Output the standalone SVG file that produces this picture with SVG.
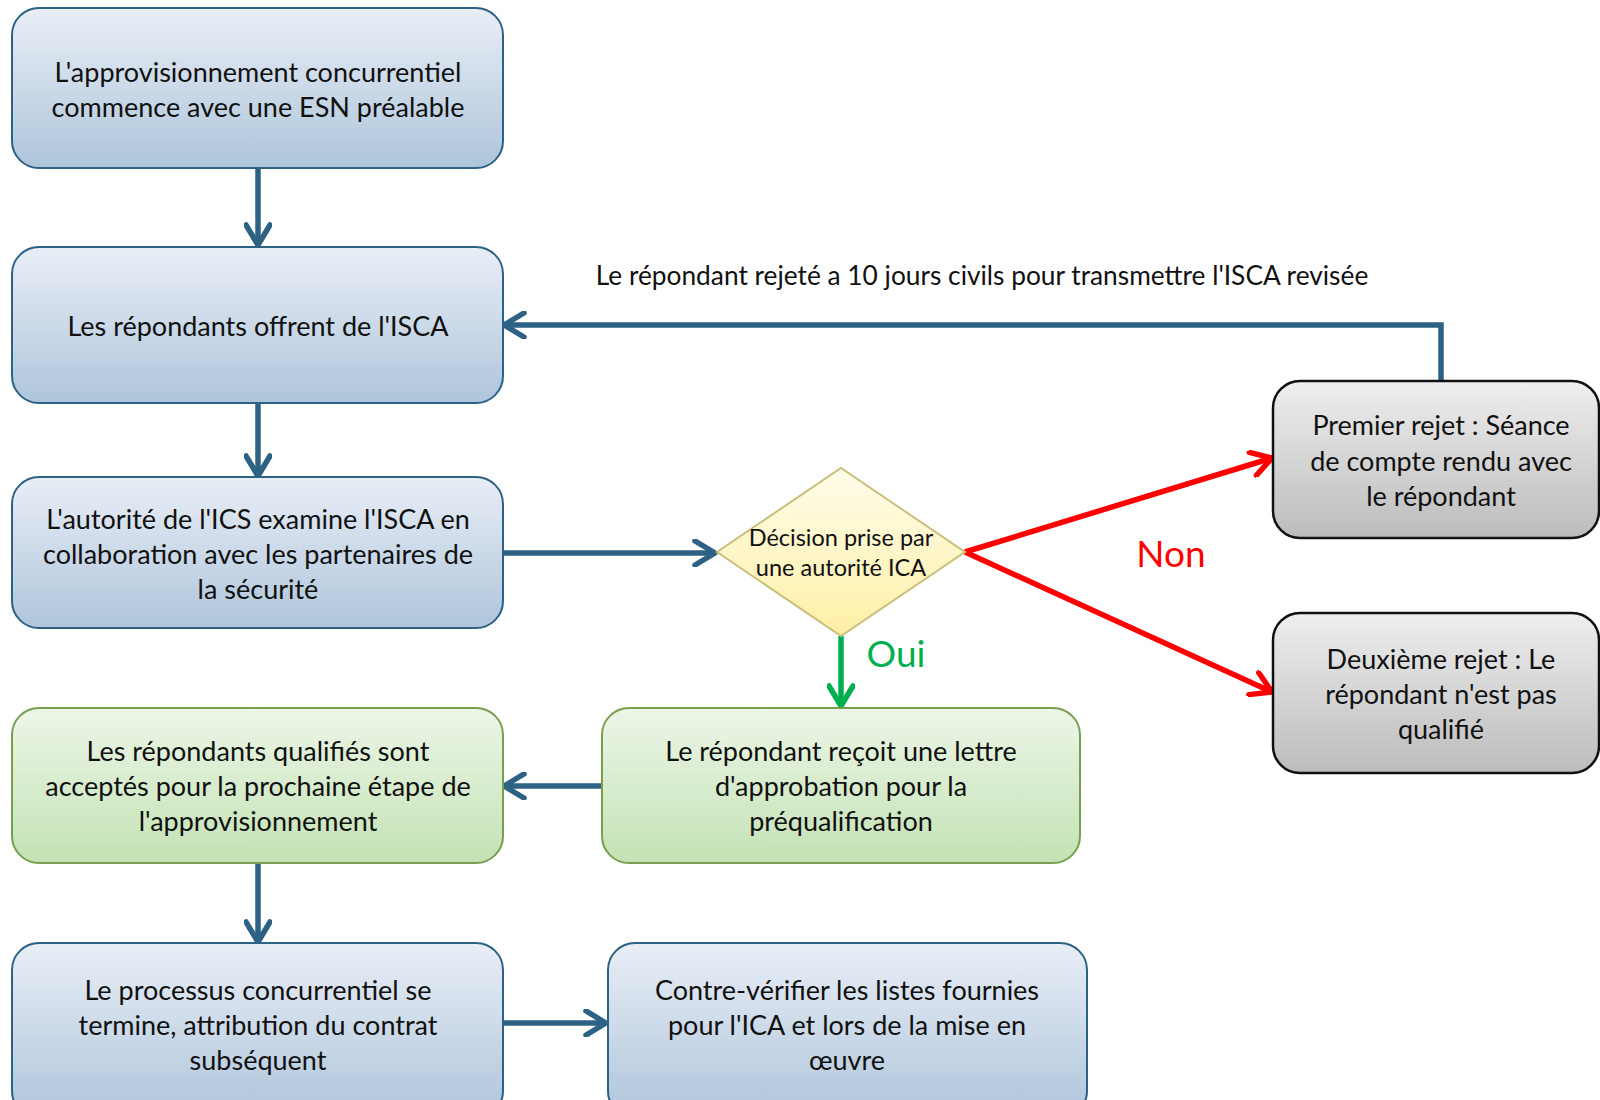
<svg xmlns="http://www.w3.org/2000/svg" width="1600" height="1100" viewBox="0 0 1600 1100">
<defs>
<linearGradient id="gBlue" x1="0" y1="0" x2="0" y2="1"><stop offset="0" stop-color="#E9EEF6"/><stop offset="1" stop-color="#AEC5DB"/></linearGradient>
<linearGradient id="gGreen" x1="0" y1="0" x2="0" y2="1"><stop offset="0" stop-color="#EDF6E8"/><stop offset="1" stop-color="#C3E2B4"/></linearGradient>
<linearGradient id="gGray" x1="0" y1="0" x2="0" y2="1"><stop offset="0" stop-color="#EEEEEE"/><stop offset="1" stop-color="#BCBCBC"/></linearGradient>
<linearGradient id="gYellow" x1="0" y1="0" x2="0" y2="1"><stop offset="0" stop-color="#FFFDEA"/><stop offset="1" stop-color="#FEEFA6"/></linearGradient>
<marker id="aBlue" viewBox="0 0 28 28" refX="24" refY="14" markerWidth="28" markerHeight="28" markerUnits="userSpaceOnUse" orient="auto"><path d="M4,2 L24,14 L4,26" fill="none" stroke="#2E6284" stroke-width="5.5" stroke-linecap="round" stroke-linejoin="round"/></marker>
<marker id="aRed" viewBox="0 0 28 28" refX="24" refY="14" markerWidth="28" markerHeight="28" markerUnits="userSpaceOnUse" orient="auto"><path d="M4,2 L24,14 L4,26" fill="none" stroke="#FF0000" stroke-width="5.5" stroke-linecap="round" stroke-linejoin="round"/></marker>
<marker id="aGreen" viewBox="0 0 28 28" refX="24" refY="14" markerWidth="28" markerHeight="28" markerUnits="userSpaceOnUse" orient="auto"><path d="M4,2 L24,14 L4,26" fill="none" stroke="#00B050" stroke-width="5.5" stroke-linecap="round" stroke-linejoin="round"/></marker>
</defs>
<style>
text{font-family:"Lato","Liberation Sans",sans-serif;fill:#111;text-anchor:middle}
.t{font-size:27px}
.d{font-size:23.5px}
.blue{fill:url(#gBlue);stroke:#2E6284;stroke-width:2}
.green{fill:url(#gGreen);stroke:#76A04F;stroke-width:2}
.gray{fill:url(#gGray);stroke:#111;stroke-width:2.5}
.c{fill:none;stroke-width:5.5}
.cb{stroke:#2E6284;marker-end:url(#aBlue)}
.cr{stroke:#FF0000;marker-end:url(#aRed)}
.cg{stroke:#00B050;marker-end:url(#aGreen)}
</style>
<rect width="1600" height="1100" fill="#fff"/>
<g id="connectors">
<path class="c cb" d="M258,168 V245"/>
<path class="c cb" d="M258,403 V476"/>
<path class="c cb" d="M503,553 H715"/>
<path class="c cb" d="M602,786 H504"/>
<path class="c cb" d="M258,863 V942"/>
<path class="c cb" d="M503,1023 H606"/>
<path class="c cb" d="M1441,381 V325 H504"/>
<path class="c cr" d="M965,552 L1272,458"/>
<path class="c cr" d="M965,552 L1272,692"/>
<path class="c cg" d="M841,636 V706"/>
<text x="982" y="285" style="font-size:26.3px">Le répondant rejeté a 10 jours civils pour transmettre l'ISCA revisée</text>
<text x="896" y="667" style="font-size:37px;fill:#00B050">Oui</text>
<text x="1171" y="567" style="font-size:37px;fill:#FF0000">Non</text>
</g>
<g id="n1"><rect class="blue" x="12" y="8" width="491" height="160" rx="27"/>
<text class="t" x="258" y="82">L'approvisionnement concurrentiel</text>
<text class="t" x="258" y="117">commence avec une ESN préalable</text></g>
<g id="n2"><rect class="blue" x="12" y="247" width="491" height="156" rx="27"/>
<text class="t" x="258" y="336">Les répondants offrent de l'ISCA</text></g>
<g id="n3"><rect class="blue" x="12" y="477" width="491" height="151" rx="27"/>
<text class="t" x="258" y="529">L'autorité de l'ICS examine l'ISCA en</text>
<text class="t" x="258" y="564">collaboration avec les partenaires de</text>
<text class="t" x="258" y="599">la sécurité</text></g>
<g id="n4"><polygon points="841,468 965,552 841,636 717,552" fill="url(#gYellow)" stroke="#C9BF7C" stroke-width="2"/>
<text class="d" x="841" y="546">Décision prise par</text>
<text class="d" x="841" y="576">une autorité ICA</text></g>
<g id="n5"><rect class="green" x="12" y="708" width="491" height="155" rx="27"/>
<text class="t" x="258" y="761">Les répondants qualifiés sont</text>
<text class="t" x="258" y="796">acceptés pour la prochaine étape de</text>
<text class="t" x="258" y="831">l'approvisionnement</text></g>
<g id="n6"><rect class="green" x="602" y="708" width="478" height="155" rx="27"/>
<text class="t" x="841" y="761">Le répondant reçoit une lettre</text>
<text class="t" x="841" y="796">d'approbation pour la</text>
<text class="t" x="841" y="831">préqualification</text></g>
<g id="n7"><rect class="blue" x="12" y="943" width="491" height="175" rx="27"/>
<text class="t" x="258" y="1000">Le processus concurrentiel se</text>
<text class="t" x="258" y="1035">termine, attribution du contrat</text>
<text class="t" x="258" y="1070">subséquent</text></g>
<g id="n8"><rect class="blue" x="608" y="943" width="479" height="175" rx="27"/>
<text class="t" x="847" y="1000">Contre-vérifier les listes fournies</text>
<text class="t" x="847" y="1035">pour l'ICA et lors de la mise en</text>
<text class="t" x="847" y="1070">œuvre</text></g>
<g id="n9"><rect class="gray" x="1273" y="381" width="326" height="157" rx="27"/>
<text class="t" x="1441" y="435">Premier rejet : Séance</text>
<text class="t" x="1441" y="471">de compte rendu avec</text>
<text class="t" x="1441" y="506">le répondant</text></g>
<g id="n10"><rect class="gray" x="1273" y="613" width="326" height="160" rx="27"/>
<text class="t" x="1441" y="669">Deuxième rejet : Le</text>
<text class="t" x="1441" y="704">répondant n'est pas</text>
<text class="t" x="1441" y="739">qualifié</text></g>
</svg>
